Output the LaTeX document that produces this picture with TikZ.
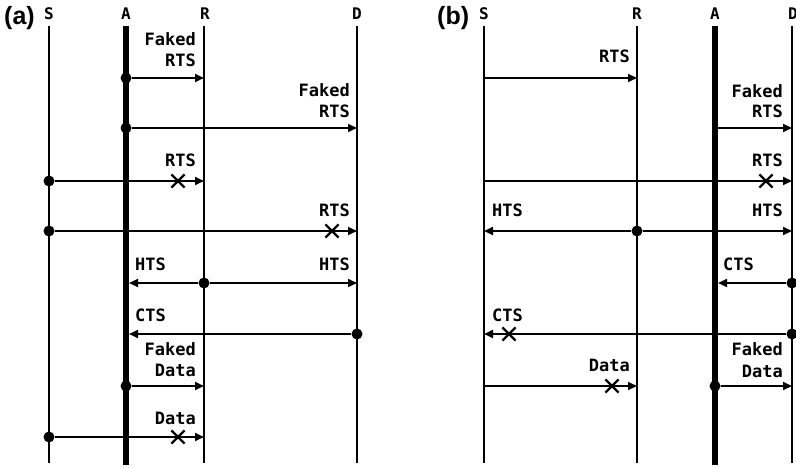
\documentclass[tikz,border=0pt]{standalone}
\usepackage{fontspec}
\newfontfamily\monof{DejaVu Sans Mono}
\newfontfamily\panelf{Liberation Sans}
\usetikzlibrary{arrows.meta,shapes.misc}
\begin{document}
\begin{tikzpicture}[x=1pt,y=-1pt,
  life/.style={line width=2.2pt},
  attacker/.style={line width=6.5pt},
  msg/.style={line width=2.2pt,-{Triangle[length=9pt,width=8pt]}},
  dotc/.style={circle,fill,inner sep=0pt,minimum size=11pt},
  xmark/.style={cross out,draw,line width=2.2pt,inner sep=0pt,minimum size=11pt},
  lbl/.style={font=\monof\bfseries\fontsize{17}{20}\selectfont,inner sep=0pt,anchor=base east},
  lbll/.style={lbl,anchor=base west},
  head/.style={font=\monof\bfseries\fontsize{16}{18}\selectfont,inner sep=0pt,anchor=base},
  panel/.style={font=\panelf\bfseries\fontsize{25}{30}\selectfont,inner sep=0pt,anchor=base west}]
\useasboundingbox (0,0) rectangle (796,468);

% ---------- panel (a) ----------
\node[panel] (pa) at (4,25) {(a)};
\node[head] (aSh) at (49,20) {S};
\node[head] (aAh) at (126,20) {A};
\node[head] (aRh) at (205,20) {R};
\node[head] (aDh) at (357,20) {D};
\coordinate (aSt) at (49,26);  \coordinate (aSb) at (49,463);
\coordinate (aAt) at (126,26); \coordinate (aAb) at (126,465);
\coordinate (aRt) at (204,26); \coordinate (aRb) at (204,463);
\coordinate (aDt) at (357,26); \coordinate (aDb) at (357,463);
\draw[life] (aSt) -- (aSb);
\draw[attacker] (aAt) -- (aAb);
\draw[life] (aRt) -- (aRb);
\draw[life] (aDt) -- (aDb);

% row 1
\node[dotc] (a1s) at (126,78) {};
\coordinate (a1e) at (204,78);
\draw[msg] (a1s) -- (a1e);
\node[lbl] (a1l1) at (196,46) {Faked};
\node[lbl] (a1l2) at (196,67) {RTS};
% row 2
\node[dotc] (a2s) at (126,128) {};
\coordinate (a2e) at (357,128);
\draw[msg] (a2s) -- (a2e);
\node[lbl] (a2l1) at (350,97) {Faked};
\node[lbl] (a2l2) at (350,118) {RTS};
% row 3
\node[dotc] (a3s) at (49,181) {};
\coordinate (a3e) at (204,181);
\draw[msg] (a3s) -- (a3e);
\node[xmark] (a3x) at (178,181) {};
\node[lbl] (a3l) at (196,167) {RTS};
% row 4
\node[dotc] (a4s) at (49,231) {};
\coordinate (a4e) at (357,231);
\draw[msg] (a4s) -- (a4e);
\node[xmark] (a4x) at (332,231) {};
\node[lbl] (a4l) at (350,217) {RTS};
% row 5
\node[dotc] (a5s) at (204,283) {};
\coordinate (a5l) at (129,283);
\coordinate (a5r) at (357,283);
\draw[msg] (a5s) -- (a5l);
\draw[msg] (a5s) -- (a5r);
\node[lbll] (a5t1) at (135,270) {HTS};
\node[lbl] (a5t2) at (350,270) {HTS};
% row 6
\node[dotc] (a6s) at (357,334) {};
\coordinate (a6e) at (129,334);
\draw[msg] (a6s) -- (a6e);
\node[lbll] (a6t) at (135,321) {CTS};
% row 7
\node[dotc] (a7s) at (126,386) {};
\coordinate (a7e) at (204,386);
\draw[msg] (a7s) -- (a7e);
\node[lbl] (a7l1) at (196,355) {Faked};
\node[lbl] (a7l2) at (196,376) {Data};
% row 8
\node[dotc] (a8s) at (49,437) {};
\coordinate (a8e) at (204,437);
\draw[msg] (a8s) -- (a8e);
\node[xmark] (a8x) at (178,437) {};
\node[lbl] (a8l) at (196,424) {Data};

% ---------- panel (b) ----------
\node[panel] (pb) at (437,25) {(b)};
\node[head] (bSh) at (484,20) {S};
\node[head] (bRh) at (637,20) {R};
\node[head] (bAh) at (715,20) {A};
\node[head] (bDh) at (793,20) {D};
\coordinate (bSt) at (484,26); \coordinate (bSb) at (484,463);
\coordinate (bRt) at (637,26); \coordinate (bRb) at (637,463);
\coordinate (bAt) at (715,26); \coordinate (bAb) at (715,465);
\coordinate (bDt) at (792,26); \coordinate (bDb) at (792,463);
\draw[life] (bSt) -- (bSb);
\draw[life] (bRt) -- (bRb);
\draw[attacker] (bAt) -- (bAb);
\draw[life] (bDt) -- (bDb);

% row 1
\coordinate (b1s) at (484,78);
\coordinate (b1e) at (637,78);
\draw[msg] (b1s) -- (b1e);
\node[lbl] (b1l) at (630,63) {RTS};
% row 2
\coordinate (b2s) at (718,128);
\coordinate (b2e) at (792,128);
\draw[msg] (b2s) -- (b2e);
\node[lbl] (b2l1) at (783,98) {Faked};
\node[lbl] (b2l2) at (783,118) {RTS};
% row 3
\coordinate (b3s) at (484,181);
\coordinate (b3e) at (792,181);
\draw[msg] (b3s) -- (b3e);
\node[xmark] (b3x) at (766,181) {};
\node[lbl] (b3l) at (783,167) {RTS};
% row 4
\node[dotc] (b4s) at (637,231) {};
\coordinate (b4l) at (484,231);
\coordinate (b4r) at (792,231);
\draw[msg] (b4s) -- (b4l);
\draw[msg] (b4s) -- (b4r);
\node[lbll] (b4t1) at (492,217) {HTS};
\node[lbl] (b4t2) at (783,217) {HTS};
% row 5
\node[dotc] (b5s) at (792,283) {};
\coordinate (b5e) at (718,283);
\draw[msg] (b5s) -- (b5e);
\node[lbll] (b5t) at (723,270) {CTS};
% row 6
\node[dotc] (b6s) at (792,334) {};
\coordinate (b6e) at (484,334);
\draw[msg] (b6s) -- (b6e);
\node[xmark] (b6x) at (509,334) {};
\node[lbll] (b6t) at (492,321) {CTS};
% row 7
\coordinate (b7s) at (484,386);
\coordinate (b7e) at (637,386);
\draw[msg] (b7s) -- (b7e);
\node[xmark] (b7x) at (612,386) {};
\node[lbl] (b7l) at (630,371) {Data};
% row 8
\node[dotc] (b8s) at (715,386) {};
\coordinate (b8e) at (792,386);
\draw[msg] (b8s) -- (b8e);
\node[lbl] (b8l1) at (783,355) {Faked};
\node[lbl] (b8l2) at (783,377) {Data};
\end{tikzpicture}
\end{document}
